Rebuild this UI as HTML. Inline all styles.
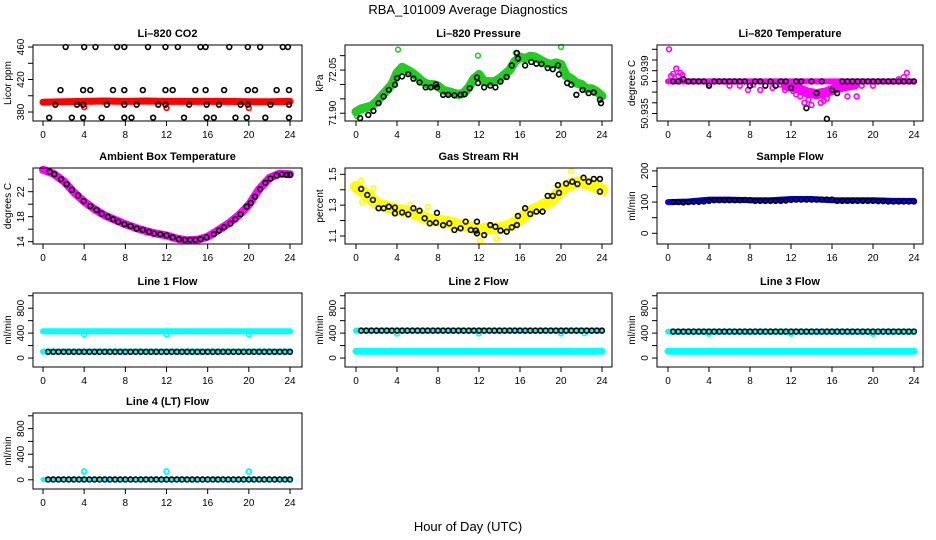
<!DOCTYPE html>
<html><head><meta charset="utf-8"><style>
html,body{margin:0;padding:0;background:#fff;}
svg{display:block;font-family:"Liberation Sans",Arial,sans-serif;}
</style></head><body>
<svg id="chart" width="936" height="540" viewBox="0 0 936 540" xmlns="http://www.w3.org/2000/svg">
<rect x="0" y="0" width="936" height="540" fill="#fff"/>
<text x="468" y="14" text-anchor="middle" font-size="13">RBA_101009  Average Diagnostics</text>
<text x="468" y="531" text-anchor="middle" font-size="13">Hour of Day (UTC)</text>
</svg>
<script>
const halfHours = [0.5,1,1.5,2,2.5,3,3.5,4,4.5,5,5.5,6,6.5,7,7.5,8,8.5,9,9.5,10,10.5,11,11.5,12,12.5,13,13.5,14,14.5,15,15.5,16,16.5,17,17.5,18,18.5,19,19.5,20,20.5,21,21.5,22,22.5,23,23.5,24];
const xTicks = [0,4,8,12,16,20,24];
const xTickLabels = ["0","4","8","12","16","20","24"];

const co2BlackHours = [2.2,4.0,5.1,7.2,7.9,10.2,11.9,13.1,15.3,15.8,18.1,19.9,21.1,23.3,23.8, 1.7,3.9,4.6,6.8,7.9,9.7,11.9,12.6,14.8,15.8,17.6,19.9,20.6,22.7,23.9, 1.2,3.3,3.9,6.2,7.9,9.1,11.2,11.9,14.2,15.9,17.1,19.2,19.9,22.1,23.9, 0.6,2.8,3.9,5.7,7.9,8.6,10.7,13.7,15.9,16.6,18.7,19.8,21.6,23.9];
const co2BlackValues = [460,460,460,460,460,460,460,460,460,460,460,460,460,460,460, 407,407,407,407,407,407,407,407,407,407,407,407,407,407,407, 389,389,389,389,389,389,389,389,389,389,389,389,389,389,389, 373,373,373,373,373,373,373,373,373,373,373,373,373,373];
const co2RedHours = [0,2,4,6,8,10,12,14,16,18,20,22,24];
const co2RedValues = [392,392.5,393,393.5,393,393.5,393,393,393,393,392.5,392.5,393];
const co2RedOutHours = [4.0,12.0,20.0];
const co2RedOutValues = [386,385,385];
const co2Ticks = [380,400,420,440,460];
const co2TickLabels = ["380","","420","","460"];

const presBlackHours = [0.4,1.2,1.7,2.2,2.7,3.2,3.8,4.0,4.5,5.1,5.6,6.2,6.8,7.3,7.8,7.9,8.5,9.0,9.6,10.2,10.6,11.1,11.8,11.9,12.5,13.1,13.6,14.1,14.7,15.2,15.7,15.8,16.5,17.1,17.6,18.1,18.7,19.2,19.7,19.8,20.6,21.0,21.5,22.1,22.7,23.2,23.8,23.9];
const presBlackValues = [71.883,71.894,71.908,71.935,71.958,71.981,71.999,72.022,72.028,72.036,72.02,72.007,71.99,71.99,72.0,71.99,71.964,71.964,71.962,71.964,71.966,71.987,72.024,72.005,71.99,71.996,71.99,72.01,72.026,72.066,72.109,72.09,72.066,72.078,72.072,72.071,72.057,72.053,72.066,72.035,72.005,71.999,71.964,71.981,71.97,71.972,71.947,71.935];
const presGreenHours = [0,0.5,1,1.5,2,2.5,3,3.5,4,4.5,5,5.5,6,6.5,7,7.5,8,8.5,9,9.5,10,10.5,11,11.5,12,12.5,13,13.5,14,14.5,15,15.5,16,16.5,17,17.5,18,18.5,19,19.5,20,20.5,21,21.5,22,22.5,23,23.5,24];
const presGreenValues = [71.905,71.915,71.92,71.925,71.94,71.96,71.98,72.0,72.04,72.06,72.05,72.04,72.025,72.01,72.0,72.0,71.995,71.98,71.975,71.97,71.965,71.97,71.99,72.02,72.035,72.01,72.01,72.01,72.02,72.035,72.05,72.08,72.095,72.09,72.098,72.095,72.085,72.075,72.07,72.075,72.07,72.03,72.02,72.005,72.0,71.985,71.985,71.975,71.96];
const presGreenOutHours = [0.1,4.1,11.9,20.0,15.6];
const presGreenOutValues = [71.89,72.121,72.1,72.13,72.11];
const presTicks = [71.90,71.95,72.00,72.05,72.10];
const presTickLabels = ["71.90","","","72.05",""];

const tempBlackValues = [50.938,50.938,50.9382,50.938,50.938,50.938,50.938,50.9376,50.938,50.938,50.938,50.938,50.938,50.938,50.938,50.9376,50.938,50.938,50.9376,50.938,50.9376,50.938,50.938,50.9374,50.938,50.938,50.9355,50.938,50.9369,50.938,50.9345,50.9372,50.9369,50.938,50.938,50.938,50.938,50.938,50.938,50.938,50.938,50.938,50.938,50.938,50.938,50.938,50.938,50.938];
const tempBandHours = [0,2,4,6,8,10,12,14,16,18,20,22,24];
const tempBandValues = [50.938,50.938,50.938,50.938,50.938,50.938,50.938,50.938,50.938,50.938,50.938,50.938,50.938];
const tempLowBandHours = [11.5,12.5,13.5,14.5,15.5,16.5,17.5,18.2];
const tempLowBandValues = [50.9376,50.9374,50.937,50.9368,50.937,50.9374,50.9376,50.9377];
const tempMagHours = [0.1,0.3,0.5,0.8,1.0,1.2,1.4,4,6,7,7.8,8.3,9,10.2,10.9,11.4,12.2,12.5,12.9,13.3,13.7,14,14.3,14.6,14.9,15.2,15.5,15.7,16,16.5,17,17.5,18.4,22.5,23,23.3,20,18.9];
const tempMagValues = [50.941,50.9385,50.9387,50.9392,50.9385,50.9388,50.9386,50.9378,50.9376,50.9376,50.9372,50.9377,50.9372,50.9374,50.9377,50.9372,50.9371,50.9368,50.9366,50.936,50.9363,50.9358,50.9367,50.937,50.936,50.9362,50.9364,50.937,50.9372,50.9375,50.9375,50.9366,50.9366,50.9382,50.9384,50.9388,50.9376,50.9376];
const tempTicks = [50.935,50.936,50.937,50.938,50.939,50.940,50.941];
const tempTickLabels = ["50.935","","","","50.939","",""];

const ambBlackHours = [0.65,1.1,1.75,2.3,2.8,3.4,3.95,4.6,5.2,5.7,6.3,6.8,7.3,7.9,8.5,9.1,9.7,10.3,10.8,11.4,12,12.6,13.2,13.8,14.3,14.8,15.3,15.9,16.6,17.1,17.6,18.2,18.7,19.2,19.8,20.2,20.6,21.1,21.6,22.1,22.7,23.2,23.7,24];
const ambBlackValues = [25.2,24.8,24.0,23.2,22.3,21.4,20.5,19.7,19.1,18.5,18.0,17.6,17.2,16.8,16.5,16.1,15.9,15.6,15.3,15.2,15.0,14.7,14.4,14.3,14.3,14.3,14.4,14.7,15.2,15.8,16.3,16.9,17.6,18.4,19.6,20.2,21.2,22.4,23.4,24.1,24.6,24.8,24.7,24.7];
const ambMagHours = [0,1,2,3,4,5,6,7,8,9,10,11,12,13,14,15,16,17,18,19,20,21,22,23,24];
const ambMagValues = [25.5,24.9,23.7,21.9,20.4,19.2,18.2,17.5,16.8,16.2,15.7,15.3,15.0,14.5,14.2,14.3,14.8,15.8,16.9,18.2,19.9,22.4,24.2,24.9,24.8];
const ambTicks = [14,16,18,20,22,24];
const ambTickLabels = ["14","","18","","22",""];

const rhBlackHours = [0.5,1.1,1.65,2.2,2.7,3.2,3.8,3.8,4.5,5.1,5.6,6.2,6.7,7.2,7.8,7.9,8.5,9.1,9.6,10.2,10.7,11.2,11.7,11.8,11.8,12.5,13.1,13.6,14.1,14.7,15.2,15.7,15.8,16.5,17,17.6,18.2,18.7,19.2,19.7,19.8,20.5,21.1,21.6,22.2,22.7,23.2,23.8,23.8];
const rhBlackValues = [1.405,1.366,1.334,1.28,1.28,1.29,1.284,1.247,1.253,1.24,1.28,1.264,1.215,1.182,1.186,1.25,1.17,1.182,1.139,1.15,1.193,1.139,1.135,1.117,1.193,1.106,1.171,1.16,1.135,1.128,1.156,1.171,1.23,1.28,1.243,1.258,1.258,1.36,1.36,1.43,1.38,1.44,1.452,1.437,1.478,1.452,1.47,1.47,1.388];
const rhYelHours = [0,1,2,3,4,5,6,7,8,9,10,11,12,13,14,15,16,17,18,19,20,21,22,23,24];
const rhYelValues = [1.42,1.37,1.31,1.29,1.27,1.26,1.24,1.21,1.2,1.19,1.17,1.16,1.14,1.15,1.15,1.17,1.21,1.26,1.29,1.33,1.4,1.44,1.45,1.43,1.4];
const rhYelOutHours = [0.5,1.7,0.6,12.1,13.7,21.0,7.0,5.3];
const rhYelOutValues = [1.46,1.41,1.32,1.07,1.08,1.52,1.29,1.3];
const rhTicks = [1.1,1.2,1.3,1.4,1.5];
const rhTickLabels = ["1.1","","1.3","","1.5"];

const sfBlackValues = [100,100,99,100,101,101,102,104,106,106,106,106,106,106,107,106,104,104,104,104,104,104,105,107,108,108,108,108,108,108,108,108,104,104,104,104,104,104,104,104,103,103,102,102,102,102,102,102];
const sfBlueHours = [0,2,4,6,8,10,12,14,16,18,20,22,24];
const sfBlueValues = [100,102,108,108,106,106,110,110,106,106,106,104,104];
const sfTicks = [0,50,100,150,200];
const sfTickLabels = ["0","","100","","200"];

const flowTicks = [0,200,400,600,800,1000];
const flowTickLabels = ["0","","400","","800",""];
const bandHours = [0,24];
const l1CyanHigh = [430,430];
const l1CyanLow = [105,105];
const l1BlackValue = [100];
const l1DipHours = [4,12,20];
const l1DipValues = [380,380,380];
const l2CyanHigh = [440,440];
const l2CyanLow = [110,110];
const l2BlackValue = [440];
const l2DipHours = [4,12,20,22.3];
const l2DipValues = [395,395,395,400];
const l3CyanHigh = [425,425];
const l3CyanLow = [110,110];
const l3BlackValue = [425];
const l3DipHours = [4,12,20];
const l3DipValues = [390,390,390];
const l4CyanLow = [5,5];
const l4BlackValue = [5];
const l4OutHours = [4,12,20];
const l4OutValues = [130,130,130];

const NS = "http://www.w3.org/2000/svg";
const svg = document.getElementById('chart');
function mk(tag, attrs, parent) {
  const el = document.createElementNS(NS, tag);
  for (const k in attrs) el.setAttribute(k, attrs[k]);
  parent.appendChild(el);
  return el;
}
const cols = [[33,302,43,290],[345,612,356,602],[657,923,668,914]];
const rows = [[45,121],[168,244],[293,367],[413,489]];
function panel(c, r, dmin, dmax, title, ylab, ticks, tickLabels, name) {
  const g = mk('g', {}, svg);
  
  
  const p = {left: cols[c][0], right: cols[c][1], x0: cols[c][2], x24: cols[c][3], top: rows[r][0], bottom: rows[r][1], dmin, dmax, g};
  p.sx = h => p.x0 + h / 24 * (p.x24 - p.x0);
  p.sy = v => p.bottom - (v - dmin) / (dmax - dmin) * (p.bottom - p.top);
  const marks = mk('g', {}, g);
  
  
  p.marks = marks;
  p.finish = function() {
    const fr = mk('rect', {x: p.left, y: p.top, width: p.right - p.left, height: p.bottom - p.top, fill: 'none', stroke: '#000', 'stroke-width': 1}, g);
    
    
    const t = mk('text', {x: (p.left + p.right) / 2, y: p.top - 8, 'text-anchor': 'middle', 'font-size': 11, 'font-weight': 'bold'}, g);
    t.textContent = title;
    
    
    const yl = mk('text', {x: 0, y: 0, 'text-anchor': 'middle', 'font-size': 10, transform: 'translate(' + (p.left - 22) + ',' + ((p.top + p.bottom) / 2) + ') rotate(-90)'}, g);
    yl.textContent = ylab;
    
    
    ticks.forEach((v, i) => {
      const y = p.sy(v);
      const tk = mk('line', {x1: p.left - 5, x2: p.left, y1: y, y2: y, stroke: '#000'}, g);
      
      
      if (tickLabels[i]) {
        const tl = mk('text', {x: 0, y: 0, 'text-anchor': 'middle', 'font-size': 10, transform: 'translate(' + (p.left - 9) + ',' + y + ') rotate(-90)'}, g);
        tl.textContent = tickLabels[i];
        
        
      }
    });
    xTicks.forEach((h, i) => {
      const x = p.sx(h);
      const tk = mk('line', {x1: x, x2: x, y1: p.bottom, y2: p.bottom + 5, stroke: '#000'}, g);
      
      
      const tl = mk('text', {x: x, y: p.bottom + 17, 'text-anchor': 'middle', 'font-size': 10}, g);
      tl.textContent = xTickLabels[i];
      
      
    });
  };
  return p;
}
function dots(p, hours, values, color, name, sw) {
  hours.forEach((h, i) => {
    const c = mk('circle', {cx: p.sx(h), cy: p.sy(values[i]), r: 2.4, fill: 'none', stroke: color, 'stroke-width': sw || 1.6}, p.marks);
    
    
  });
}
function band(p, hours, values, color, width, name) {
  const d = hours.map((h, i) => (i ? 'L' : 'M') + p.sx(h).toFixed(1) + ',' + p.sy(values[i]).toFixed(1)).join(' ');
  const el = mk('path', {d: d, fill: 'none', stroke: color, 'stroke-width': width, 'stroke-linecap': 'round', 'stroke-linejoin': 'round'}, p.marks);
  
  
}
function constDots(p, value, color, name) {
  dots(p, halfHours, halfHours.map(() => value), color, name);
}

let p = panel(0, 0, 368.9, 462.5, 'Li\u2013820 CO2', 'Licor ppm', co2Ticks, co2TickLabels, 'co2');
band(p, co2RedHours, co2RedValues, '#ff0000', 7, 'co2-raw-band');
dots(p, co2RedOutHours, co2RedOutValues, '#ff0000', 'co2-raw-point');
dots(p, co2BlackHours, co2BlackValues, '#000', 'co2-average-point');
p.finish();

p = panel(1, 0, 71.873, 72.137, 'Li\u2013820 Pressure', 'kPa', presTicks, presTickLabels, 'pressure');
band(p, presGreenHours, presGreenValues, '#22cc22', 9, 'pressure-raw-band');
dots(p, presGreenOutHours, presGreenOutValues, '#22cc22', 'pressure-raw-point');
dots(p, presBlackHours, presBlackValues, '#000', 'pressure-average-point');
p.finish();

p = panel(2, 0, 50.9343, 50.9414, 'Li\u2013820 Temperature', 'degrees C', tempTicks, tempTickLabels, 'li820-temp');
band(p, tempBandHours, tempBandValues, '#ff00ff', 6, 'li820-temp-raw-band');
band(p, tempLowBandHours, tempLowBandValues, '#ff00ff', 10, 'li820-temp-raw-cloud');
dots(p, tempMagHours, tempMagValues, '#ff00ff', 'li820-temp-raw-point');
dots(p, halfHours, tempBlackValues, '#000', 'li820-temp-average-point');
p.finish();

p = panel(0, 1, 13.63, 25.79, 'Ambient Box Temperature', 'degrees C', ambTicks, ambTickLabels, 'ambient-temp');
band(p, ambMagHours, ambMagValues, '#ff00ff', 8, 'ambient-temp-raw-band');
dots(p, ambBlackHours, ambBlackValues, '#000', 'ambient-temp-average-point');
p.finish();

p = panel(1, 1, 1.048, 1.541, 'Gas Stream RH', 'percent', rhTicks, rhTickLabels, 'rh');
band(p, rhYelHours, rhYelValues, '#ffff00', 12, 'rh-raw-band');
dots(p, rhYelOutHours, rhYelOutValues, '#ffff00', 'rh-raw-point');
dots(p, rhBlackHours, rhBlackValues, '#000', 'rh-average-point');
p.finish();

p = panel(2, 1, -34.3, 209.3, 'Sample Flow', 'ml/min', sfTicks, sfTickLabels, 'sample-flow');
band(p, sfBlueHours, sfBlueValues, '#0000ff', 6, 'sample-flow-raw-band');
dots(p, halfHours, sfBlackValues, '#000', 'sample-flow-average-point');
p.finish();

p = panel(0, 2, -144, 1044, 'Line 1 Flow', 'ml/min', flowTicks, flowTickLabels, 'line1-flow');
band(p, bandHours, l1CyanHigh, '#00ffff', 6, 'line1-flow-high-band');
band(p, bandHours, l1CyanLow, '#00ffff', 6, 'line1-flow-low-band');
dots(p, l1DipHours, l1DipValues, '#00ffff', 'line1-flow-raw-point');
constDots(p, l1BlackValue[0], '#000', 'line1-flow-average-point');
p.finish();

p = panel(1, 2, -144, 1044, 'Line 2 Flow', 'ml/min', flowTicks, flowTickLabels, 'line2-flow');
band(p, bandHours, l2CyanHigh, '#00ffff', 6, 'line2-flow-high-band');
band(p, bandHours, l2CyanLow, '#00ffff', 7, 'line2-flow-low-band');
dots(p, l2DipHours, l2DipValues, '#00ffff', 'line2-flow-raw-point');
constDots(p, l2BlackValue[0], '#000', 'line2-flow-average-point');
p.finish();

p = panel(2, 2, -144, 1044, 'Line 3 Flow', 'ml/min', flowTicks, flowTickLabels, 'line3-flow');
band(p, bandHours, l3CyanHigh, '#00ffff', 6, 'line3-flow-high-band');
band(p, bandHours, l3CyanLow, '#00ffff', 7, 'line3-flow-low-band');
dots(p, l3DipHours, l3DipValues, '#00ffff', 'line3-flow-raw-point');
constDots(p, l3BlackValue[0], '#000', 'line3-flow-average-point');
p.finish();

p = panel(0, 3, -144, 1044, 'Line 4 (LT) Flow', 'ml/min', flowTicks, flowTickLabels, 'line4-flow');
band(p, bandHours, l4CyanLow, '#00ffff', 5, 'line4-flow-raw-band');
dots(p, l4OutHours, l4OutValues, '#00ffff', 'line4-flow-raw-point', 2);
constDots(p, l4BlackValue[0], '#000', 'line4-flow-average-point');
p.finish();
</script>
</body></html>
